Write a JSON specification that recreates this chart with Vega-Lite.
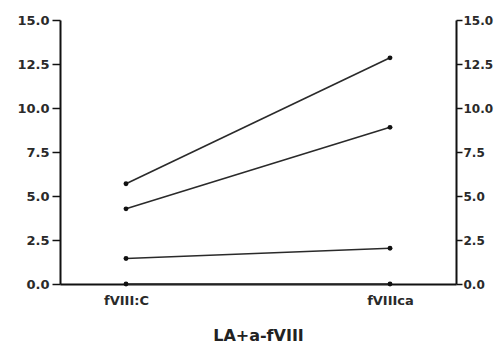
{
  "$schema": "https://vega.github.io/schema/vega-lite/v6.json",
  "autosize": "none",
  "width": 396,
  "height": 264,
  "padding": {"left": 60, "top": 20, "right": 38, "bottom": 70},
  "background": "white",
  "config": {
    "view": {"stroke": null},
    "axis": {
      "labelFont": "DejaVu Sans",
      "labelFontWeight": "bold",
      "labelFontSize": 13,
      "labelColor": "#2a2a2a",
      "titleFont": "DejaVu Sans",
      "domainColor": "#111111",
      "domainWidth": 2,
      "tickColor": "#111111",
      "tickWidth": 1.5,
      "tickSize": 8,
      "grid": false
    }
  },
  "data": {
    "values": [
      {"series": "A", "condition": "fVIII:C", "value": 5.7},
      {"series": "A", "condition": "fVIIIca", "value": 12.85},
      {"series": "B", "condition": "fVIII:C", "value": 4.27},
      {"series": "B", "condition": "fVIIIca", "value": 8.9},
      {"series": "C", "condition": "fVIII:C", "value": 1.45},
      {"series": "C", "condition": "fVIIIca", "value": 2.03},
      {"series": "D", "condition": "fVIII:C", "value": 0},
      {"series": "D", "condition": "fVIIIca", "value": 0}
    ]
  },
  "encoding": {
    "x": {
      "field": "condition",
      "type": "ordinal",
      "sort": ["fVIII:C", "fVIIIca"],
      "scale": {"type": "point", "padding": 0.25},
      "axis": {
        "title": "LA+a-fVIII",
        "titleFontSize": 16,
        "titleFontWeight": "bold",
        "titleColor": "#222222",
        "titlePadding": 20,
        "labelAngle": 0,
        "labelPadding": 10,
        "ticks": false
      }
    }
  },
  "layer": [
    {
      "mark": {"type": "line", "color": "#2a2a2a", "strokeWidth": 1.6, "point": {"filled": true, "color": "#111111", "size": 24}},
      "encoding": {
        "y": {
          "field": "value",
          "type": "quantitative",
          "scale": {"domain": [0, 15], "nice": false},
          "axis": {"title": null, "orient": "left", "values": [0, 2.5, 5, 7.5, 10, 12.5, 15], "format": ".1f", "labelPadding": 3}
        },
        "detail": {"field": "series"}
      }
    },
    {
      "mark": {"type": "point", "opacity": 0},
      "encoding": {
        "y": {
          "field": "value",
          "type": "quantitative",
          "scale": {"domain": [0, 15], "nice": false},
          "axis": {"title": null, "orient": "right", "values": [0, 2.5, 5, 7.5, 10, 12.5, 15], "format": ".1f", "tickSize": 6, "labelPadding": 1, "labelFontSize": 12}
        }
      }
    }
  ],
  "resolve": {"scale": {"y": "independent"}}
}
